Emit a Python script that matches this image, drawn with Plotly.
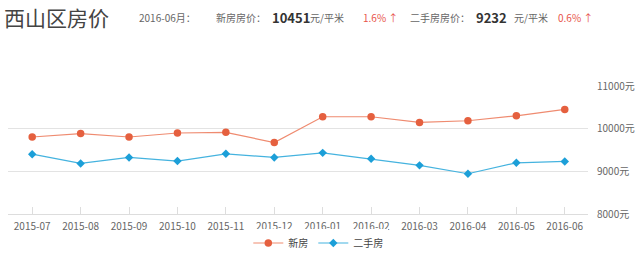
import plotly.graph_objects as go

months = ["2015-07", "2015-08", "2015-09", "2015-10", "2015-11", "2015-12",
          "2016-01", "2016-02", "2016-03", "2016-04", "2016-05", "2016-06"]
new_price = [9805, 9884, 9805, 9898, 9914, 9674, 10279, 10279, 10147, 10186, 10302, 10451]
second_price = [9402, 9186, 9326, 9240, 9410, 9326, 9433, 9293, 9140, 8944, 9200, 9232]
y_ticks = [8000, 9000, 10000, 11000]
y_tick_text = ["8000元", "9000元", "10000元", "11000元"]

RED = "#e5603f"
RED_LINE = "#ef8b70"
BLUE = "#1c9fd8"
BLUE_LINE = "#45b3df"
FONT = "Noto Sans CJK SC"

W, H = 640, 257
L, R, T, B = 8, 52, 86, 43
PW = W - L - R
PH = H - T - B

fig = go.Figure()
fig.add_trace(go.Scatter(
    x=months, y=new_price, name="新房", mode="lines+markers",
    line=dict(color=RED_LINE, width=1.2),
    marker=dict(color=RED, size=7.5, symbol="circle"),
))
fig.add_trace(go.Scatter(
    x=months, y=second_price, name="二手房", mode="lines+markers",
    line=dict(color=BLUE_LINE, width=1.2),
    marker=dict(color=BLUE, size=6.5, symbol="diamond"),
))


def px(x):
    return (x - L) / PW


def py(y):
    return (H - B - y) / PH


anns = [
    (2, 17, "西山区房价", 21, "#444444"),
    (137, 17, "2016-06月：", 10, "#666666"),
    (214, 17, "新房房价：", 10, "#666666"),
    (270, 17, "<b>10451</b>", 13, "#333333"),
    (308, 17, "元/平米", 10, "#666666"),
    (361, 17, "1.6% ↑", 10, "#e8544a"),
    (408, 17, "二手房房价：", 10, "#666666"),
    (474, 17, "<b>9232</b>", 13, "#333333"),
    (512, 17, "元/平米", 10, "#666666"),
    (556, 17, "0.6% ↑", 10, "#e8544a"),
]
for x, y, text, size, color in anns:
    fig.add_annotation(
        x=px(x), y=py(y), xref="paper", yref="paper", text=text,
        showarrow=False, xanchor="left", yanchor="middle",
        font=dict(family=FONT, size=size, color=color),
    )

fig.update_layout(
    width=W, height=H,
    margin=dict(l=L, r=R, t=T, b=B, autoexpand=False),
    paper_bgcolor="white", plot_bgcolor="white",
    font=dict(family=FONT, size=10, color="#666666"),
    showlegend=True,
    legend=dict(
        orientation="h", x=0.535, xanchor="center", y=py(243), yanchor="middle",
        font=dict(family=FONT, size=10, color="#444444"),
        itemwidth=30, tracegroupgap=0,
    ),
    xaxis=dict(
        type="category", range=[-0.5, 11.48],
        showgrid=False, showline=True, linecolor="#dddddd", linewidth=1,
        ticks="inside", ticklen=7, tickcolor="#dddddd",
        ticklabelstandoff=3,
        tickfont=dict(family=FONT, size=10, color="#666666"),
        fixedrange=True, automargin=False,
    ),
    yaxis=dict(
        side="right", range=[8000, 11000], tickvals=y_ticks,
        ticktext=y_tick_text, showgrid=True, gridcolor="#e3e3e3", gridwidth=1,
        zeroline=False, showline=False, ticklabelstandoff=8,
        tickfont=dict(family=FONT, size=10, color="#666666"),
        fixedrange=True, automargin=False,
    ),
)

fig.write_html("out.html")
